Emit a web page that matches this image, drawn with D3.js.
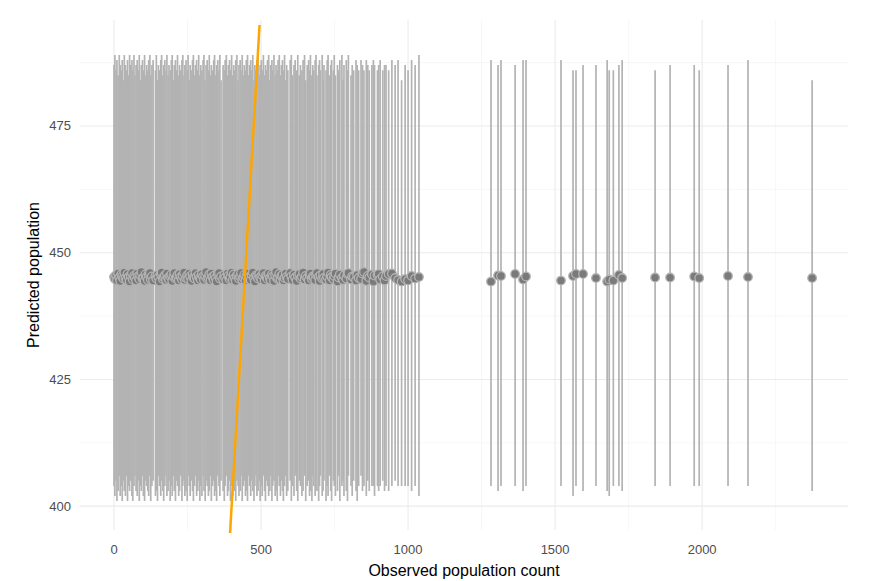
<!DOCTYPE html>
<html><head><meta charset="utf-8">
<script src="https://cdn.jsdelivr.net/npm/d3@7"></script>
<style>body{margin:0;background:#fff}text{font-family:"Liberation Sans",Arial,sans-serif}</style>
</head><body><svg id="c" width="883" height="581"></svg>
<script>
const observedDense = [0,3,7,10,14,18,21,25,28,32,35,39,43,46,50,53,57,61,64,68,71,75,79,82,86,89,93,97,100,104,107,111,115,118,122,125,129,133,141,144,148,151,155,159,162,166,169,173,177,180,184,187,191,195,198,202,205,209,213,216,220,223,227,231,234,238,241,245,249,252,256,259,263,267,270,274,277,281,285,288,292,295,299,303,306,310,313,317,321,324,328,331,335,339,342,346,349,353,357,360,364,371,375,378,382,386,389,393,396,400,404,407,411,414,418,422,425,429,432,436,440,443,447,450,454,458,461,465,468,472,476,479,483,486,490,494,497,501,504,508,512,515,519,522,526,530,533,537,540,544,548,551,555,558,562,566,569,573,576,580,584,587,591,599,603,607,612,616,621,625,630,634,639,643,648,652,657,662,665,668,673,676,679,684,687,690,696,699,702,708,711,714,721,725,728,733,737,740,746,749,753,760,764,768,775,779,782,790,794,797,806,810,815,823,827,832,840,845,850,858,863,868,877,882,886,896,900,905,914,920,925,934,945,956,966,978,990,1000,1012,1024,1037,1050,1062,1075,1088,1101,1116,1130,1146,1165,1182,1198,1211,1224];
const predictedDense = [445.2,444.8,445.6,444.5,445.9,445.1,444.4,445.7,445.3,444.9,446.1,445.0,444.6,445.8,445.2,444.3,445.5,446.0,444.7,445.4,445.1,444.5,445.9,445.3,444.8,445.6,446.2,444.9,445.0,444.4,445.7,445.2,444.6,445.8,446.0,444.7,445.3,444.5,445.4,444.9,445.6,445.1,444.3,445.8,446.1,444.8,445.2,445.5,444.6,445.9,445.0,444.7,445.4,445.7,444.4,445.3,446.0,444.9,445.1,445.6,444.5,445.8,445.2,444.7,445.4,446.1,444.6,445.0,445.5,444.8,445.9,445.3,444.4,445.7,445.1,444.9,446.0,445.2,444.5,445.6,445.0,444.7,445.8,445.3,444.6,445.4,446.2,444.8,445.1,445.7,444.5,445.9,445.2,444.6,445.5,445.0,444.3,445.8,446.0,444.9,445.3,444.7,445.6,445.1,444.5,445.9,445.4,444.8,445.2,446.1,444.6,445.7,445.0,444.4,445.5,445.8,444.9,445.3,446.0,444.7,445.1,445.6,444.5,445.4,445.9,444.8,445.2,444.6,445.7,446.1,445.0,444.3,445.5,445.3,444.9,445.8,445.1,444.7,445.6,446.0,444.5,445.4,445.2,444.8,445.9,445.0,444.6,445.7,445.3,444.4,445.5,446.2,444.9,445.1,445.8,444.7,445.4,445.6,444.5,445.0,445.9,445.2,444.8,446.0,445.3,444.6,445.7,445.1,444.4,445.5,445.8,444.9,445.2,446.1,444.7,445.4,445.0,444.5,445.6,445.9,444.8,445.3,445.1,444.6,445.7,446.0,445.2,444.4,445.5,444.9,445.8,445.0,444.7,445.3,446.1,444.5,445.6,445.2,444.8,445.4,445.9,444.3,445.1,445.7,445.0,444.6,445.5,444.9,445.8,446.0,444.7,445.3,445.2,444.5,445.6,445.0,444.8,445.9,446.2,444.4,445.4,445.1,445.7,444.3,445.5,445.6,445.8,444.7,445.3,444.5,445.4,445.8,445.9,445.0,444.6,444.3,444.8,444.5,445.4,444.9,445.2,445.2,445.1,444.9,445.4,445.2,445.0,445.6,444.8,445.3];
const lowerDense = [404,402,405,401,403,406,402,404,401,405,403,402,406,401,404,403,405,402,401,404,406,403,402,405,401,404,403,406,402,401,405,404,403,402,406,401,404,405,402,403,401,406,404,402,405,403,401,404,406,402,403,405,401,404,402,406,403,401,405,404,402,403,406,401,404,405,402,403,401,406,404,402,405,403,401,404,406,402,403,405,401,404,402,406,403,401,405,404,402,403,406,401,404,405,402,403,401,406,404,402,405,403,401,404,406,402,403,405,401,404,402,406,403,401,405,404,402,403,406,401,404,405,402,403,401,406,404,402,405,403,401,404,406,402,403,405,401,404,402,406,403,401,405,404,402,403,406,401,404,405,402,403,401,406,404,402,405,403,401,404,406,402,403,405,401,404,402,406,403,401,405,404,402,403,406,401,404,405,402,403,401,406,404,402,405,403,401,404,406,402,403,405,401,404,402,406,403,401,405,404,402,403,406,401,404,405,402,403,401,406,404,402,405,403,401,404,406,403,404,402,405,403,404,404,402,404,403,404,405,403,404,403,404,405,404,404,404,404,403,404,402,405,403];
const upperDense = [487,489,486,488,485,489,487,486,488,484,489,487,486,488,485,489,487,488,486,489,485,487,488,486,489,484,487,488,486,489,485,487,486,488,489,485,487,488,486,489,484,487,486,488,489,485,487,488,486,489,485,487,486,488,489,484,487,488,486,489,485,487,486,488,489,485,487,488,486,489,484,487,486,488,489,485,487,488,486,489,485,487,486,488,489,484,487,488,486,489,485,487,486,488,489,485,487,488,486,489,484,487,486,488,489,485,487,488,486,489,485,487,486,488,489,484,487,488,486,489,485,487,486,488,489,485,487,488,486,489,484,487,486,488,489,485,487,488,486,489,485,487,486,488,489,484,487,488,486,489,485,487,486,488,489,485,487,488,486,489,484,487,486,488,489,485,487,488,486,489,485,487,486,488,489,484,487,488,486,489,485,487,486,488,489,485,487,488,486,489,484,487,486,488,489,485,487,488,486,489,485,487,486,488,489,484,487,488,486,489,485,487,486,488,487,486,488,487,486,488,487,486,487,488,487,486,487,488,486,487,487,486,488,487,488,484,487,486,488,487,489];
// sparse observations (right side)
const observedSparse = [1282,1306,1316,1364,1391,1401,1520,1561,1571,1595,1639,1677,1684,1698,1717,1728,1840,1891,1973,1990,2088,2156,2374];
const predictedSparse = [444.3,445.5,445.4,445.8,444.7,445.3,444.5,445.4,445.8,445.8,445.0,444.3,444.7,444.5,445.6,445.0,445.1,445.1,445.3,445.0,445.4,445.2,445.0];
const lowerSparse = [404,403,404,404,403,404,404,402,404,403,404,403,402,404,404,403,404,404,404,404,404,404,403];
const upperSparse = [488,487,488,487,488,488,488,486,486,487,487,488,486,486,487,488,486,487,487,486,487,488,484];
const xTicks = [0,500,1000,1500,2000];
const yTicks = [400,425,450,475];

const svg = d3.select("#c");
const m = {l:80, r:35, t:20, b:51};
const W = 883, H = 581;
const x = d3.scaleLinear().domain([-115.6, 2496]).range([m.l, W-m.r]);
const y = d3.scaleLinear().domain([395.3, 495.9]).range([H-m.b, m.t]);

const g = svg.append("g");
const minorX = [250,750,1250,1750,2250];
const minorY = [412.5, 437.5, 462.5, 487.5];
g.selectAll(".mnx").data(minorX).join("line").attr("x1",d=>x(d)).attr("x2",d=>x(d)).attr("y1",m.t).attr("y2",H-m.b).attr("stroke","#f2f2f2").attr("stroke-width",0.6);
g.selectAll(".mny").data(minorY).join("line").attr("y1",d=>y(d)).attr("y2",d=>y(d)).attr("x1",m.l).attr("x2",W-m.r).attr("stroke","#f2f2f2").attr("stroke-width",0.6);
g.selectAll(".mjx").data(xTicks).join("line").attr("x1",d=>x(d)).attr("x2",d=>x(d)).attr("y1",m.t).attr("y2",H-m.b).attr("stroke","#ebebeb").attr("stroke-width",1.1);
g.selectAll(".mjy").data(yTicks).join("line").attr("y1",d=>y(d)).attr("y2",d=>y(d)).attr("x1",m.l).attr("x2",W-m.r).attr("stroke","#ebebeb").attr("stroke-width",1.1);

const dense = observedDense.map((o,i)=>({o, p:predictedDense[i], lo:lowerDense[i], hi:upperDense[i]}));
const sparse = observedSparse.map((o,i)=>({o, p:predictedSparse[i], lo:lowerSparse[i], hi:upperSparse[i]}));
const data = dense.concat(sparse).filter(d => d.p !== undefined && d.lo !== undefined && d.hi !== undefined);

svg.append("g").selectAll("line").data(data).join("line")
  .attr("x1",d=>x(d.o)).attr("x2",d=>x(d.o)).attr("y1",d=>y(d.lo)).attr("y2",d=>y(d.hi))
  .attr("stroke","#b3b3b3").attr("stroke-width",1.7);
svg.append("g").selectAll("circle").data(data).join("circle")
  .attr("cx",d=>x(d.o)).attr("cy",d=>y(d.p)).attr("r",4.3)
  .attr("fill","#7a7a7a").attr("stroke","#b3b3b3").attr("stroke-width",1.3);

svg.append("defs").append("clipPath").attr("id","cl").append("rect").attr("x",0).attr("y",25).attr("width",W).attr("height",508);
svg.append("line").attr("clip-path","url(#cl)")
  .attr("x1",x(390)).attr("y1",y(390)).attr("x2",x(500)).attr("y2",y(500))
  .attr("stroke","#FFA500").attr("stroke-width",2.5);

svg.append("g").selectAll("text").data(xTicks).join("text").attr("x",d=>x(d)).attr("y",H-m.b+24)
  .attr("text-anchor","middle").attr("font-size",13).attr("fill","#4d4d4d").text(d=>d);
svg.append("g").selectAll("text").data(yTicks).join("text").attr("x",m.l-9).attr("y",d=>y(d)+4.5)
  .attr("text-anchor","end").attr("font-size",13).attr("fill","#4d4d4d").text(d=>d);
svg.append("text").attr("x",(m.l+W-m.r)/2).attr("y",H-5).attr("text-anchor","middle").attr("font-size",16).attr("fill","#000").text("Observed population count");
svg.append("text").attr("transform",`translate(39,${(m.t+H-m.b)/2}) rotate(-90)`).attr("text-anchor","middle").attr("font-size",16).attr("fill","#000").text("Predicted population");
</script></body></html>
